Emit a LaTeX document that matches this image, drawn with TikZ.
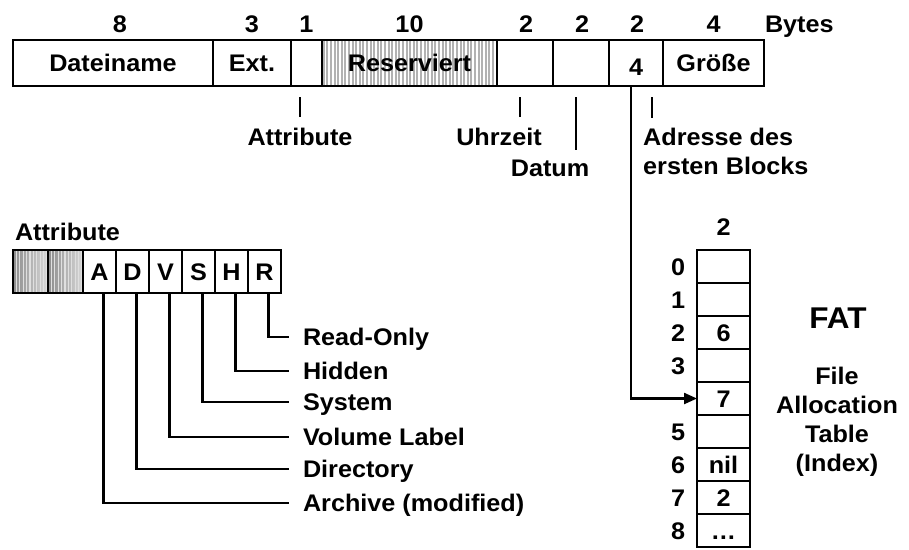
\documentclass[tikz,border=0pt]{standalone}
\usepackage{fontspec}
\setmainfont[FakeStretch=1.05]{Liberation Sans}
\usetikzlibrary{arrows.meta,calc}

\newcommand{\labfont}{\fontsize{24}{29}\selectfont\bfseries}

\tikzset{
  lab/.style={inner sep=0pt, outer sep=0pt, text height=17pt, text depth=0pt, font=\labfont},
  field/.style={lab, draw, line width=1.3pt, minimum height=46pt, anchor=west},
  bit/.style={lab, draw, line width=1.3pt, minimum width=33pt, minimum height=43pt, anchor=west},
  fatrow/.style={lab, draw, line width=1.6pt, minimum width=53pt, minimum height=33pt},
  frame/.style={line width=2.6pt},
  tick/.style={line width=1.8pt},
  wire/.style={line width=2.3pt},
  stripes/.style={path picture={
      \fill[gray!60] (path picture bounding box.south west) rectangle (path picture bounding box.north east);
      \foreach \s in {0,...,55}
        \draw[white, line width=1.5pt] ([xshift=\s*3.6pt]path picture bounding box.south west) -- ([xshift=\s*3.6pt]path picture bounding box.north west);}},
  darkstripes/.style={path picture={
      \shade[left color=gray!90, right color=gray!30] (path picture bounding box.south west) rectangle (path picture bounding box.north east);
      \foreach \s in {0,...,11}
        \draw[white!75!gray, line width=1.2pt] ([xshift=\s*3.4pt]path picture bounding box.south west) -- ([xshift=\s*3.4pt]path picture bounding box.north west);}},
}

\begin{document}
\begin{tikzpicture}[x=1pt, y=-1pt]
  \useasboundingbox (0,0) rectangle (909,549);

  % ==================== 1. DIRECTORY ENTRY ====================
  \node[field, minimum width=200pt] (fname) at (13,63) {Dateiname};
  \node[field, minimum width=78pt] (fext) at (fname.east) {Ext.};
  \node[field, minimum width=31pt] (fattr) at (fext.east) {};
  \node[field, minimum width=175pt, stripes] (fres) at (fattr.east) {Reserviert};
  \node[field, minimum width=56pt] (ftime) at (fres.east) {};
  \node[field, minimum width=56pt] (fdate) at (ftime.east) {};
  \node[field, minimum width=54pt] (faddr) at (fdate.east) {\raisebox{-4pt}{4}};
  \node[field, minimum width=101pt] (fsize) at (faddr.east) {Größe};
  \draw[frame] (fname.north west) rectangle (fsize.south east);

  % Byte counts
  \foreach \f/\n/\dx in {fname/8/7, fext/3/0, fattr/1/0, fres/10/0, ftime/2/1, fdate/2/1, faddr/2/1, fsize/4/0} {
    \node[lab] (n\f) at ([yshift=16pt, xshift=\dx pt]\f.north) {\n};
  }
  \node[lab, anchor=west] (bytes) at (765,24) {Bytes};

  % Field labels with ticks
  \node[lab] (lattr) at (300,137) {Attribute};
  \node[lab] (ltime) at (499,137) {Uhrzeit};
  \node[lab] (ldate) at (550,168) {Datum};
  \node[font=\labfont, inner sep=0pt, anchor=north west, align=left] (laddr) at (643,128) {Adresse des\\ersten Blocks};
  \coordinate (tattr) at (300,97);
  \coordinate (ttime) at (520,97);
  \coordinate (tdate) at (576,97);
  \coordinate (taddr) at (652,97);
  \draw[tick] (tattr) -- ++(0,20);
  \draw[tick] (ttime) -- ++(0,20);
  \draw[tick] (tdate) -- ++(0,53);
  \draw[tick] (taddr) -- ++(0,21);

  % ==================== 2. ATTRIBUTE BYTE ====================
  \node[lab, anchor=west] (lbits) at (15,232) {Attribute};
  \node[bit, minimum width=35pt, darkstripes] (bx1) at (13,271.5) {};
  \node[bit, minimum width=35pt, darkstripes] (bx2) at (bx1.east) {};
  \foreach \b/\p in {A/bx2, D/bA, V/bD, S/bV, H/bS, R/bH} {
    \node[bit] (b\b) at (\p.east) {\b};
  }
  \draw[frame] (bx1.north west) rectangle (bR.south east);

  \foreach \b/\t/\y in {R/Read-Only/337, H/Hidden/371, S/System/402, V/Volume Label/437, D/Directory/469, A/Archive (modified)/503} {
    \node[lab, anchor=west] (l\b) at (303,\y) {\t};
    \draw[wire] ([xshift=4pt]b\b.south) |- ([xshift=-14pt]l\b.west);
  }

  % ==================== 3. FAT ====================
  \foreach \i/\v in {0/{},1/{},2/6,3/{},4/7,5/{},6/nil,7/2,8/\ldots} {
    \node[fatrow] (f\i) at (723.5,{266.5+33*\i}) {\v};
  }
  \foreach \i in {0,1,2,3,5,6,7,8} {
    \node[lab] (ix\i) at ([xshift=-19pt]f\i.west) {\i};
  }
  \node[lab] (nfat) at ([yshift=23pt]f0.north) {2};

  % Pointer to first block
  \draw[wire, -{Triangle[length=13pt, width=11pt]}] ([xshift=-5pt]faddr.south) |- (f4.west);

  \node[font=\fontsize{30}{34}\selectfont\bfseries, inner sep=0pt, text height=21.5pt, text depth=0pt] (fat) at (838,318) {FAT};
  \node[font=\labfont, inner sep=0pt, align=center] (fatinfo) at (837,422) {File\\Allocation\\Table\\(Index)};

\end{tikzpicture}
\end{document}
